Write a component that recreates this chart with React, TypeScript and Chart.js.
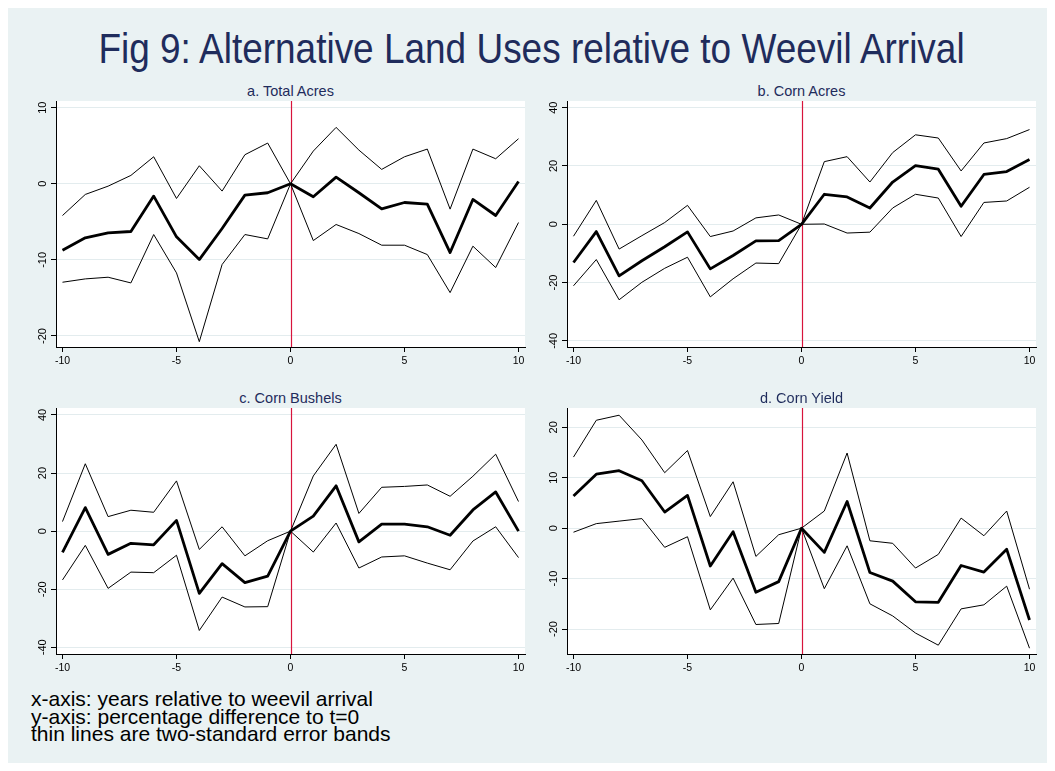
import { useEffect, useRef } from "react";
import { Chart, registerables } from "chart.js";

Chart.register(...registerables);

// Event-time axis: years relative to weevil arrival
const years = [-10, -9, -8, -7, -6, -5, -4, -3, -2, -1, 0, 1, 2, 3, 4, 5, 6, 7, 8, 9, 10];
const xTicks = [-10, -5, 0, 5, 10];
const arrivalYear = 0;

// a. Total Acres
const totalAcresEst = [-8.73, -7.1, -6.45, -6.27, -1.62, -6.97, -9.96, -5.88, -1.49, -1.18, 0, -1.71, 0.88, -1.18, -3.29, -2.46, -2.68, -9.04, -2.06, -4.17, 0.31];
const totalAcresUpper = [-4.17, -1.4, -0.31, 1.1, 3.55, -1.93, 2.37, -0.96, 3.82, 5.35, 0, 4.3, 7.41, 4.43, 1.89, 3.55, 4.56, -3.33, 4.56, 3.29, 5.92];
const totalAcresLower = [-12.94, -12.5, -12.28, -13.03, -6.67, -11.71, -20.75, -10.61, -6.67, -7.24, 0, -7.46, -5.35, -6.54, -8.07, -8.07, -9.3, -14.3, -8.2, -11.01, -5.09];
const totalAcresTicks = [-20, -10, 0, 10];

// b. Corn Acres
const cornAcresEst = [-13.1, -2.5, -17.7, -12.5, -7.7, -2.6, -15.3, -10.7, -5.7, -5.6, 0, 10.3, 9.4, 5.6, 14.5, 20.1, 18.9, 6.2, 17.1, 18.1, 22.2];
const cornAcresUpper = [-4.1, 8.2, -8.5, -3.9, 0.6, 6.5, -4.2, -2.3, 2.2, 3.2, 0, 21.5, 23.2, 14.5, 24.6, 30.7, 29.6, 18.3, 27.9, 29.4, 32.5];
const cornAcresLower = [-21.1, -12.1, -25.9, -19.9, -15.1, -11.3, -24.9, -18.7, -13.3, -13.5, 0, 0.1, -3.0, -2.7, 5.6, 10.3, 9.0, -4.2, 7.5, 8.0, 12.7];
const cornAcresTicks = [-40, -20, 0, 20, 40];

// c. Corn Bushels
const cornBushelsEst = [-7.3, 8.1, -8.0, -4.2, -4.7, 3.7, -21.4, -11.2, -17.7, -15.5, 0, 5.2, 15.6, -3.7, 2.4, 2.4, 1.5, -1.4, 7.3, 13.5, 0];
const cornBushelsUpper = [3.3, 23.2, 5.0, 7.2, 6.5, 17.3, -6.3, 1.5, -8.5, -3.3, 0, 19.0, 29.9, 6.1, 15.1, 15.4, 15.9, 12.0, 18.9, 26.5, 10.2];
const cornBushelsLower = [-16.8, -4.9, -19.7, -14.1, -14.3, -8.3, -34.2, -22.7, -26.1, -26.0, 0, -7.2, 2.8, -12.7, -8.9, -8.5, -11.0, -13.3, -3.4, 1.5, -9.1];
const cornBushelsTicks = [-40, -20, 0, 20, 40];

// d. Corn Yield
const cornYieldEst = [6.4, 10.7, 11.4, 9.4, 3.2, 6.5, -7.5, -0.7, -12.7, -10.6, 0, -4.8, 5.3, -8.8, -10.5, -14.6, -14.7, -7.4, -8.7, -4.2, -18.2];
const cornYieldUpper = [14.1, 21.4, 22.4, 17.5, 11.0, 15.4, 2.3, 9.2, -5.6, -1.3, 0, 3.4, 14.9, -2.5, -3.0, -7.9, -5.2, 2.0, -1.5, 3.4, -12.1];
const cornYieldLower = [-0.8, 0.9, 1.4, 1.9, -3.8, -1.7, -16.2, -9.9, -19.1, -18.9, 0, -12.0, -3.5, -15.0, -17.4, -20.8, -23.2, -16.0, -15.2, -11.5, -23.8];
const cornYieldTicks = [-20, -10, 0, 10, 20];

const FONT = "'Liberation Sans', Arial, Helvetica, sans-serif";
const BG = "#eaf2f3";
const NAVY = "#1f2c5c";
const PAGE = 8; // body margin

const AXIS_W = 40;
const AXIS_H = 26;
const PAD_T = 12;
const PAD_R = 10;

const plotBackground = {
  id: "plotBackground",
  beforeDraw(chart: any) {
    const { ctx, chartArea } = chart;
    ctx.save();
    ctx.fillStyle = "#ffffff";
    ctx.fillRect(chartArea.left, chartArea.top, chartArea.right - chartArea.left, chartArea.bottom - chartArea.top);
    ctx.restore();
  },
};

const arrivalLine = {
  id: "arrivalLine",
  beforeDatasetsDraw(chart: any) {
    const { ctx, chartArea, scales } = chart;
    const x = Math.round(scales.x.getPixelForValue(arrivalYear)) + 0.5;
    ctx.save();
    ctx.strokeStyle = "#d8143c";
    ctx.lineWidth = 1.2;
    ctx.beginPath();
    ctx.moveTo(x, chartArea.top);
    ctx.lineTo(x, chartArea.bottom);
    ctx.stroke();
    ctx.restore();
  },
};

type PanelProps = {
  title: string;
  est: number[];
  upper: number[];
  lower: number[];
  yTicks: number[];
  yMin: number;
  yMax: number;
  left: number;
  top: number;
  width: number;
  height: number;
  titleTop: number;
};

function Panel(p: PanelProps) {
  const ref = useRef<HTMLCanvasElement>(null);

  useEffect(() => {
    if (!ref.current) return;
    const series = (vals: number[]) => years.map((x, i) => ({ x, y: vals[i] }));
    const thin = { borderColor: "#000000", borderWidth: 1, pointRadius: 0, tension: 0, fill: false };
    const chart = new Chart(ref.current, {
      type: "line",
      data: {
        datasets: [
          { ...thin, data: series(p.upper) },
          { ...thin, data: series(p.lower) },
          { ...thin, borderWidth: 2.8, borderJoinStyle: "round", data: series(p.est) },
        ],
      },
      options: {
        animation: false,
        responsive: false,
        maintainAspectRatio: false,
        events: [],
        layout: { padding: { top: PAD_T, right: PAD_R, left: 0, bottom: 0 } },
        plugins: { legend: { display: false }, tooltip: { enabled: false }, title: { display: false } },
        scales: {
          x: {
            type: "linear",
            min: -10.285,
            max: 10.285,
            afterBuildTicks: (s: any) => {
              s.ticks = xTicks.map((v) => ({ value: v }));
            },
            afterFit: (s: any) => {
              s.height = AXIS_H;
            },
            grid: { drawOnChartArea: false, drawTicks: true, tickLength: 5, tickColor: "#000", color: "#000" },
            border: { display: true, color: "#000", width: 1 },
            ticks: { font: { family: FONT, size: 10.5 }, color: "#000", padding: 3, minRotation: 0, maxRotation: 0, autoSkip: false },
          },
          y: {
            type: "linear",
            min: p.yMin,
            max: p.yMax,
            afterBuildTicks: (s: any) => {
              s.ticks = p.yTicks.map((v) => ({ value: v }));
            },
            afterFit: (s: any) => {
              s.width = AXIS_W;
            },
            grid: { color: "#e3ecee", lineWidth: 1, drawTicks: true, tickLength: 5, tickColor: "#000" },
            border: { display: true, color: "#000", width: 1 },
            ticks: { font: { family: FONT, size: 11 }, color: "#000", padding: 0, minRotation: 90, maxRotation: 90, crossAlign: "center", autoSkip: false },
          },
        },
      },
      plugins: [plotBackground, arrivalLine],
    } as any);
    return () => chart.destroy();
  }, []);

  const cw = AXIS_W + p.width + PAD_R;
  const ch = PAD_T + p.height + AXIS_H;
  return (
    <>
      <div
        style={{
          position: "absolute",
          left: p.left - PAGE,
          top: p.titleTop - PAGE,
          width: p.width,
          textAlign: "center",
          fontFamily: FONT,
          fontSize: 14.5,
          lineHeight: "14.5px",
          color: NAVY,
          whiteSpace: "nowrap",
        }}
      >
        {p.title}
      </div>
      <canvas
        ref={ref}
        width={cw}
        height={ch}
        style={{ position: "absolute", left: p.left - AXIS_W - PAGE, top: p.top - PAD_T - PAGE, width: cw, height: ch, display: "block" }}
      />
    </>
  );
}

export default function App() {
  return (
    <div style={{ position: "relative", width: 1047, height: 755, background: BG, overflow: "hidden" }}>
      <div
        style={{
          position: "absolute",
          left: 0,
          top: 19.5,
          width: 1047,
          textAlign: "center",
          fontFamily: FONT,
          fontSize: 42,
          lineHeight: "42px",
          color: NAVY,
          whiteSpace: "nowrap",
          transform: "scaleX(0.88)",
          transformOrigin: "center",
        }}
      >
        Fig 9: Alternative Land Uses relative to Weevil Arrival
      </div>

      <Panel title="a. Total Acres" est={totalAcresEst} upper={totalAcresUpper} lower={totalAcresLower}
        yTicks={totalAcresTicks} yMin={-21.45} yMax={10.88}
        left={56} top={101} width={469} height={246} titleTop={84} />
      <Panel title="b. Corn Acres" est={cornAcresEst} upper={cornAcresUpper} lower={cornAcresLower}
        yTicks={cornAcresTicks} yMin={-42.1} yMax={42.3}
        left={567} top={101} width={469} height={246} titleTop={84} />
      <Panel title="c. Corn Bushels" est={cornBushelsEst} upper={cornBushelsUpper} lower={cornBushelsLower}
        yTicks={cornBushelsTicks} yMin={-42.3} yMax={42.4}
        left={56} top={408} width={469} height={246} titleTop={391} />
      <Panel title="d. Corn Yield" est={cornYieldEst} upper={cornYieldUpper} lower={cornYieldLower}
        yTicks={cornYieldTicks} yMin={-24.95} yMax={23.83}
        left={567} top={408} width={469} height={246} titleTop={391} />

      <div
        style={{
          position: "absolute",
          left: 31 - PAGE,
          top: 690 - PAGE,
          fontFamily: FONT,
          fontSize: 21,
          lineHeight: "17.5px",
          color: "#000",
          whiteSpace: "nowrap",
        }}
      >
        <div>x-axis: years relative to weevil arrival</div>
        <div>y-axis: percentage difference to t=0</div>
        <div>thin lines are two-standard error bands</div>
      </div>
    </div>
  );
}
